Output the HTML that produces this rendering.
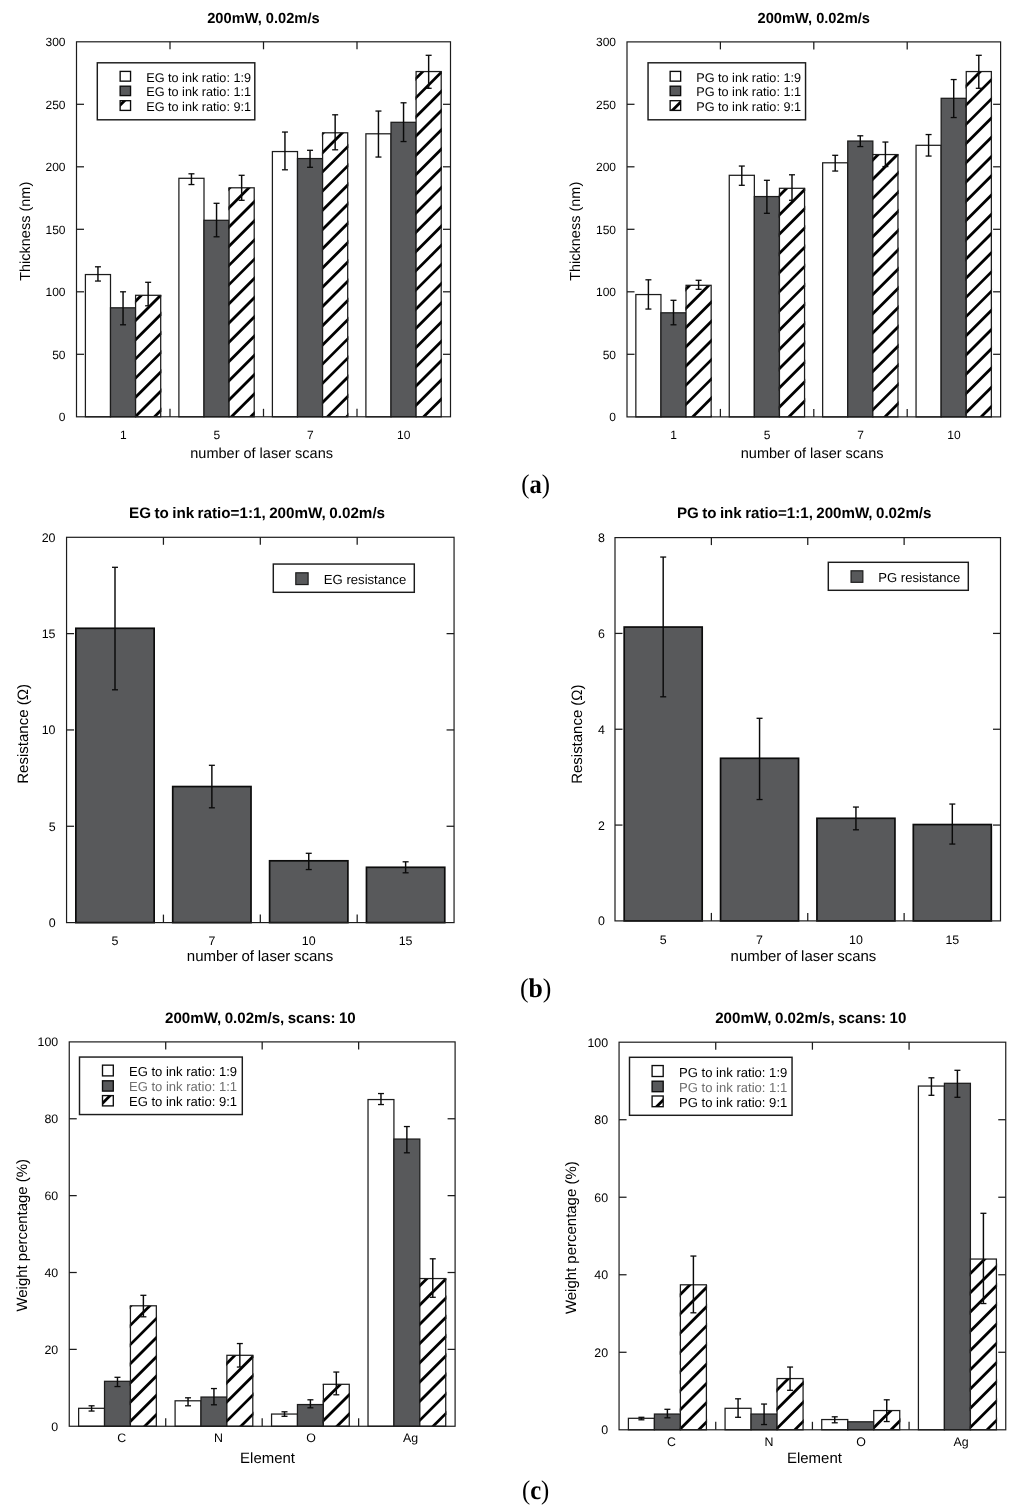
<!DOCTYPE html>
<html><head><meta charset="utf-8"><title>Figure</title>
<style>
html,body{margin:0;padding:0;background:#fff;}
svg{display:block;}
text{text-rendering:geometricPrecision;}
</style></head>
<body>
<svg width="1024" height="1512" viewBox="0 0 1024 1512">
<rect width="1024" height="1512" fill="#fff"/>
<defs><clipPath id="c1"><rect x="135.10" y="295.00" width="26.50" height="121.50"/></clipPath><clipPath id="c2"><rect x="228.60" y="187.50" width="26.50" height="229.00"/></clipPath><clipPath id="c3"><rect x="322.10" y="132.50" width="26.50" height="284.00"/></clipPath><clipPath id="c4"><rect x="415.60" y="71.25" width="26.50" height="345.25"/></clipPath><clipPath id="c5"><rect x="120.35" y="100.40" width="10.40" height="9.70"/></clipPath><clipPath id="c6"><rect x="685.55" y="285.00" width="26.50" height="131.60"/></clipPath><clipPath id="c7"><rect x="778.95" y="188.00" width="26.50" height="228.60"/></clipPath><clipPath id="c8"><rect x="872.35" y="154.25" width="26.50" height="262.35"/></clipPath><clipPath id="c9"><rect x="965.75" y="71.25" width="26.50" height="345.35"/></clipPath><clipPath id="c10"><rect x="670.35" y="100.40" width="10.50" height="9.70"/></clipPath><clipPath id="c11"><rect x="129.93" y="1305.50" width="27.30" height="120.45"/></clipPath><clipPath id="c12"><rect x="226.39" y="1355.00" width="27.30" height="70.95"/></clipPath><clipPath id="c13"><rect x="322.86" y="1384.00" width="27.30" height="41.95"/></clipPath><clipPath id="c14"><rect x="419.32" y="1278.25" width="27.30" height="147.70"/></clipPath><clipPath id="c15"><rect x="102.70" y="1095.30" width="10.80" height="10.30"/></clipPath><clipPath id="c16"><rect x="679.90" y="1284.50" width="27.40" height="145.00"/></clipPath><clipPath id="c17"><rect x="776.57" y="1378.25" width="27.40" height="51.25"/></clipPath><clipPath id="c18"><rect x="873.24" y="1410.25" width="27.40" height="19.25"/></clipPath><clipPath id="c19"><rect x="969.91" y="1258.75" width="27.40" height="170.75"/></clipPath><clipPath id="c20"><rect x="652.30" y="1095.70" width="11.10" height="10.70"/></clipPath></defs>
<g transform="translate(-0.2,0.3)">
<rect x="85.60" y="274.25" width="25.10" height="142.25" fill="#fff" stroke="#1c1c1c" stroke-width="1.25"/>
<rect x="110.70" y="307.50" width="25.10" height="109.00" fill="#58595b" stroke="#1c1c1c" stroke-width="1.25"/>
<rect x="135.80" y="295.00" width="25.10" height="121.50" fill="#fff" stroke="none"/>
<g clip-path="url(#c1)" stroke="#000" stroke-width="2.8"><line x1="132.80" y1="284.59" x2="163.90" y2="253.49"/><line x1="132.80" y1="303.81" x2="163.90" y2="272.71"/><line x1="132.80" y1="323.04" x2="163.90" y2="291.94"/><line x1="132.80" y1="342.26" x2="163.90" y2="311.16"/><line x1="132.80" y1="361.49" x2="163.90" y2="330.39"/><line x1="132.80" y1="380.71" x2="163.90" y2="349.61"/><line x1="132.80" y1="399.94" x2="163.90" y2="368.84"/><line x1="132.80" y1="419.16" x2="163.90" y2="388.06"/><line x1="132.80" y1="438.39" x2="163.90" y2="407.29"/><line x1="132.80" y1="457.61" x2="163.90" y2="426.51"/></g>
<rect x="135.80" y="295.00" width="25.10" height="121.50" fill="none" stroke="#1c1c1c" stroke-width="1.25"/>
<line x1="98.15" y1="266.50" x2="98.15" y2="280.75" stroke="#0a0a0a" stroke-width="1.45" />
<line x1="95.15" y1="266.50" x2="101.15" y2="266.50" stroke="#0a0a0a" stroke-width="1.3" />
<line x1="95.15" y1="280.75" x2="101.15" y2="280.75" stroke="#0a0a0a" stroke-width="1.3" />
<line x1="123.25" y1="291.50" x2="123.25" y2="324.50" stroke="#0a0a0a" stroke-width="1.45" />
<line x1="120.25" y1="291.50" x2="126.25" y2="291.50" stroke="#0a0a0a" stroke-width="1.3" />
<line x1="120.25" y1="324.50" x2="126.25" y2="324.50" stroke="#0a0a0a" stroke-width="1.3" />
<line x1="148.35" y1="282.00" x2="148.35" y2="305.50" stroke="#0a0a0a" stroke-width="1.45" />
<line x1="145.35" y1="282.00" x2="151.35" y2="282.00" stroke="#0a0a0a" stroke-width="1.3" />
<line x1="145.35" y1="305.50" x2="151.35" y2="305.50" stroke="#0a0a0a" stroke-width="1.3" />
<rect x="179.10" y="178.00" width="25.10" height="238.50" fill="#fff" stroke="#1c1c1c" stroke-width="1.25"/>
<rect x="204.20" y="220.00" width="25.10" height="196.50" fill="#58595b" stroke="#1c1c1c" stroke-width="1.25"/>
<rect x="229.30" y="187.50" width="25.10" height="229.00" fill="#fff" stroke="none"/>
<g clip-path="url(#c2)" stroke="#000" stroke-width="2.8"><line x1="226.30" y1="171.86" x2="257.40" y2="140.76"/><line x1="226.30" y1="191.09" x2="257.40" y2="159.99"/><line x1="226.30" y1="210.31" x2="257.40" y2="179.21"/><line x1="226.30" y1="229.54" x2="257.40" y2="198.44"/><line x1="226.30" y1="248.76" x2="257.40" y2="217.66"/><line x1="226.30" y1="267.99" x2="257.40" y2="236.89"/><line x1="226.30" y1="287.21" x2="257.40" y2="256.11"/><line x1="226.30" y1="306.44" x2="257.40" y2="275.34"/><line x1="226.30" y1="325.66" x2="257.40" y2="294.56"/><line x1="226.30" y1="344.89" x2="257.40" y2="313.79"/><line x1="226.30" y1="364.11" x2="257.40" y2="333.01"/><line x1="226.30" y1="383.33" x2="257.40" y2="352.24"/><line x1="226.30" y1="402.56" x2="257.40" y2="371.46"/><line x1="226.30" y1="421.79" x2="257.40" y2="390.69"/><line x1="226.30" y1="441.01" x2="257.40" y2="409.91"/><line x1="226.30" y1="460.23" x2="257.40" y2="429.13"/></g>
<rect x="229.30" y="187.50" width="25.10" height="229.00" fill="none" stroke="#1c1c1c" stroke-width="1.25"/>
<line x1="191.65" y1="173.50" x2="191.65" y2="184.25" stroke="#0a0a0a" stroke-width="1.45" />
<line x1="188.65" y1="173.50" x2="194.65" y2="173.50" stroke="#0a0a0a" stroke-width="1.3" />
<line x1="188.65" y1="184.25" x2="194.65" y2="184.25" stroke="#0a0a0a" stroke-width="1.3" />
<line x1="216.75" y1="203.00" x2="216.75" y2="236.50" stroke="#0a0a0a" stroke-width="1.45" />
<line x1="213.75" y1="203.00" x2="219.75" y2="203.00" stroke="#0a0a0a" stroke-width="1.3" />
<line x1="213.75" y1="236.50" x2="219.75" y2="236.50" stroke="#0a0a0a" stroke-width="1.3" />
<line x1="241.85" y1="175.00" x2="241.85" y2="200.00" stroke="#0a0a0a" stroke-width="1.45" />
<line x1="238.85" y1="175.00" x2="244.85" y2="175.00" stroke="#0a0a0a" stroke-width="1.3" />
<line x1="238.85" y1="200.00" x2="244.85" y2="200.00" stroke="#0a0a0a" stroke-width="1.3" />
<rect x="272.60" y="151.25" width="25.10" height="265.25" fill="#fff" stroke="#1c1c1c" stroke-width="1.25"/>
<rect x="297.70" y="158.25" width="25.10" height="258.25" fill="#58595b" stroke="#1c1c1c" stroke-width="1.25"/>
<rect x="322.80" y="132.50" width="25.10" height="284.00" fill="#fff" stroke="none"/>
<g clip-path="url(#c3)" stroke="#000" stroke-width="2.8"><line x1="319.80" y1="116.81" x2="350.90" y2="85.71"/><line x1="319.80" y1="136.04" x2="350.90" y2="104.94"/><line x1="319.80" y1="155.26" x2="350.90" y2="124.16"/><line x1="319.80" y1="174.49" x2="350.90" y2="143.39"/><line x1="319.80" y1="193.71" x2="350.90" y2="162.61"/><line x1="319.80" y1="212.94" x2="350.90" y2="181.83"/><line x1="319.80" y1="232.16" x2="350.90" y2="201.06"/><line x1="319.80" y1="251.39" x2="350.90" y2="220.29"/><line x1="319.80" y1="270.61" x2="350.90" y2="239.51"/><line x1="319.80" y1="289.83" x2="350.90" y2="258.73"/><line x1="319.80" y1="309.06" x2="350.90" y2="277.96"/><line x1="319.80" y1="328.29" x2="350.90" y2="297.19"/><line x1="319.80" y1="347.51" x2="350.90" y2="316.41"/><line x1="319.80" y1="366.73" x2="350.90" y2="335.63"/><line x1="319.80" y1="385.96" x2="350.90" y2="354.86"/><line x1="319.80" y1="405.19" x2="350.90" y2="374.08"/><line x1="319.80" y1="424.41" x2="350.90" y2="393.31"/><line x1="319.80" y1="443.64" x2="350.90" y2="412.54"/><line x1="319.80" y1="462.86" x2="350.90" y2="431.76"/></g>
<rect x="322.80" y="132.50" width="25.10" height="284.00" fill="none" stroke="#1c1c1c" stroke-width="1.25"/>
<line x1="285.15" y1="131.75" x2="285.15" y2="169.50" stroke="#0a0a0a" stroke-width="1.45" />
<line x1="282.15" y1="131.75" x2="288.15" y2="131.75" stroke="#0a0a0a" stroke-width="1.3" />
<line x1="282.15" y1="169.50" x2="288.15" y2="169.50" stroke="#0a0a0a" stroke-width="1.3" />
<line x1="310.25" y1="150.00" x2="310.25" y2="167.00" stroke="#0a0a0a" stroke-width="1.45" />
<line x1="307.25" y1="150.00" x2="313.25" y2="150.00" stroke="#0a0a0a" stroke-width="1.3" />
<line x1="307.25" y1="167.00" x2="313.25" y2="167.00" stroke="#0a0a0a" stroke-width="1.3" />
<line x1="335.35" y1="114.50" x2="335.35" y2="149.50" stroke="#0a0a0a" stroke-width="1.45" />
<line x1="332.35" y1="114.50" x2="338.35" y2="114.50" stroke="#0a0a0a" stroke-width="1.3" />
<line x1="332.35" y1="149.50" x2="338.35" y2="149.50" stroke="#0a0a0a" stroke-width="1.3" />
<rect x="366.10" y="133.50" width="25.10" height="283.00" fill="#fff" stroke="#1c1c1c" stroke-width="1.25"/>
<rect x="391.20" y="122.00" width="25.10" height="294.50" fill="#58595b" stroke="#1c1c1c" stroke-width="1.25"/>
<rect x="416.30" y="71.25" width="25.10" height="345.25" fill="#fff" stroke="none"/>
<g clip-path="url(#c4)" stroke="#000" stroke-width="2.8"><line x1="413.30" y1="61.76" x2="444.40" y2="30.66"/><line x1="413.30" y1="80.99" x2="444.40" y2="49.89"/><line x1="413.30" y1="100.21" x2="444.40" y2="69.11"/><line x1="413.30" y1="119.44" x2="444.40" y2="88.33"/><line x1="413.30" y1="138.66" x2="444.40" y2="107.56"/><line x1="413.30" y1="157.89" x2="444.40" y2="126.79"/><line x1="413.30" y1="177.11" x2="444.40" y2="146.01"/><line x1="413.30" y1="196.33" x2="444.40" y2="165.23"/><line x1="413.30" y1="215.56" x2="444.40" y2="184.46"/><line x1="413.30" y1="234.79" x2="444.40" y2="203.69"/><line x1="413.30" y1="254.01" x2="444.40" y2="222.91"/><line x1="413.30" y1="273.23" x2="444.40" y2="242.13"/><line x1="413.30" y1="292.46" x2="444.40" y2="261.36"/><line x1="413.30" y1="311.69" x2="444.40" y2="280.58"/><line x1="413.30" y1="330.91" x2="444.40" y2="299.81"/><line x1="413.30" y1="350.14" x2="444.40" y2="319.04"/><line x1="413.30" y1="369.36" x2="444.40" y2="338.26"/><line x1="413.30" y1="388.58" x2="444.40" y2="357.48"/><line x1="413.30" y1="407.81" x2="444.40" y2="376.71"/><line x1="413.30" y1="427.04" x2="444.40" y2="395.94"/><line x1="413.30" y1="446.26" x2="444.40" y2="415.16"/><line x1="413.30" y1="465.49" x2="444.40" y2="434.39"/></g>
<rect x="416.30" y="71.25" width="25.10" height="345.25" fill="none" stroke="#1c1c1c" stroke-width="1.25"/>
<line x1="378.65" y1="110.75" x2="378.65" y2="156.75" stroke="#0a0a0a" stroke-width="1.45" />
<line x1="375.65" y1="110.75" x2="381.65" y2="110.75" stroke="#0a0a0a" stroke-width="1.3" />
<line x1="375.65" y1="156.75" x2="381.65" y2="156.75" stroke="#0a0a0a" stroke-width="1.3" />
<line x1="403.75" y1="102.50" x2="403.75" y2="141.25" stroke="#0a0a0a" stroke-width="1.45" />
<line x1="400.75" y1="102.50" x2="406.75" y2="102.50" stroke="#0a0a0a" stroke-width="1.3" />
<line x1="400.75" y1="141.25" x2="406.75" y2="141.25" stroke="#0a0a0a" stroke-width="1.3" />
<line x1="428.85" y1="55.00" x2="428.85" y2="88.00" stroke="#0a0a0a" stroke-width="1.45" />
<line x1="425.85" y1="55.00" x2="431.85" y2="55.00" stroke="#0a0a0a" stroke-width="1.3" />
<line x1="425.85" y1="88.00" x2="431.85" y2="88.00" stroke="#0a0a0a" stroke-width="1.3" />
<rect x="76.70" y="41.50" width="374.00" height="375.00" fill="none" stroke="#1c1c1c" stroke-width="1.2"/>
<text x="65.70" y="421.00" font-family='"Liberation Sans", sans-serif' font-size="12.0" font-weight="normal" text-anchor="end" fill="#000" >0</text>
<line x1="76.70" y1="354.00" x2="84.20" y2="354.00" stroke="#1c1c1c" stroke-width="1.25" />
<line x1="443.20" y1="354.00" x2="450.70" y2="354.00" stroke="#1c1c1c" stroke-width="1.25" />
<text x="65.70" y="358.50" font-family='"Liberation Sans", sans-serif' font-size="12.0" font-weight="normal" text-anchor="end" fill="#000" >50</text>
<line x1="76.70" y1="291.50" x2="84.20" y2="291.50" stroke="#1c1c1c" stroke-width="1.25" />
<line x1="443.20" y1="291.50" x2="450.70" y2="291.50" stroke="#1c1c1c" stroke-width="1.25" />
<text x="65.70" y="296.00" font-family='"Liberation Sans", sans-serif' font-size="12.0" font-weight="normal" text-anchor="end" fill="#000" >100</text>
<line x1="76.70" y1="229.00" x2="84.20" y2="229.00" stroke="#1c1c1c" stroke-width="1.25" />
<line x1="443.20" y1="229.00" x2="450.70" y2="229.00" stroke="#1c1c1c" stroke-width="1.25" />
<text x="65.70" y="233.50" font-family='"Liberation Sans", sans-serif' font-size="12.0" font-weight="normal" text-anchor="end" fill="#000" >150</text>
<line x1="76.70" y1="166.50" x2="84.20" y2="166.50" stroke="#1c1c1c" stroke-width="1.25" />
<line x1="443.20" y1="166.50" x2="450.70" y2="166.50" stroke="#1c1c1c" stroke-width="1.25" />
<text x="65.70" y="171.00" font-family='"Liberation Sans", sans-serif' font-size="12.0" font-weight="normal" text-anchor="end" fill="#000" >200</text>
<line x1="76.70" y1="104.00" x2="84.20" y2="104.00" stroke="#1c1c1c" stroke-width="1.25" />
<line x1="443.20" y1="104.00" x2="450.70" y2="104.00" stroke="#1c1c1c" stroke-width="1.25" />
<text x="65.70" y="108.50" font-family='"Liberation Sans", sans-serif' font-size="12.0" font-weight="normal" text-anchor="end" fill="#000" >250</text>
<text x="65.70" y="46.00" font-family='"Liberation Sans", sans-serif' font-size="12.0" font-weight="normal" text-anchor="end" fill="#000" >300</text>
<line x1="170.20" y1="41.50" x2="170.20" y2="49.00" stroke="#1c1c1c" stroke-width="1.25" />
<line x1="170.20" y1="408.50" x2="170.20" y2="416.50" stroke="#1c1c1c" stroke-width="1.25" />
<line x1="263.70" y1="41.50" x2="263.70" y2="49.00" stroke="#1c1c1c" stroke-width="1.25" />
<line x1="263.70" y1="408.50" x2="263.70" y2="416.50" stroke="#1c1c1c" stroke-width="1.25" />
<line x1="357.20" y1="41.50" x2="357.20" y2="49.00" stroke="#1c1c1c" stroke-width="1.25" />
<line x1="357.20" y1="408.50" x2="357.20" y2="416.50" stroke="#1c1c1c" stroke-width="1.25" />
<text x="123.45" y="438.75" font-family='"Liberation Sans", sans-serif' font-size="12.0" font-weight="normal" text-anchor="middle" fill="#000" >1</text>
<text x="216.95" y="438.75" font-family='"Liberation Sans", sans-serif' font-size="12.0" font-weight="normal" text-anchor="middle" fill="#000" >5</text>
<text x="310.45" y="438.75" font-family='"Liberation Sans", sans-serif' font-size="12.0" font-weight="normal" text-anchor="middle" fill="#000" >7</text>
<text x="403.95" y="438.75" font-family='"Liberation Sans", sans-serif' font-size="12.0" font-weight="normal" text-anchor="middle" fill="#000" >10</text>
<text x="207.40" y="22.75" font-family='"Liberation Sans", sans-serif' font-size="14.67" font-weight="bold" text-anchor="start" fill="#000" word-spacing="0">200mW, 0.02m/s</text>
<text x="190.50" y="457.50" font-family='"Liberation Sans", sans-serif' font-size="14.5" font-weight="normal" text-anchor="start" fill="#000" word-spacing="0.00">number of laser scans</text>
<text transform="translate(29.80,231.00) rotate(-90)" font-family='"Liberation Sans", sans-serif' font-size="14.5" text-anchor="middle" fill="#000">Thickness (nm)</text>
<rect x="97.50" y="62.50" width="157.50" height="57.00" fill="#fff" stroke="#1c1c1c" stroke-width="1.45"/>
<rect x="120.35" y="71.10" width="10.40" height="9.75" fill="#fff" stroke="#0c0c0c" stroke-width="1.35"/>
<text x="146.40" y="81.30" font-family='"Liberation Sans", sans-serif' font-size="12.67" font-weight="normal" text-anchor="start" fill="#000" >EG to ink ratio: 1:9</text>
<rect x="120.35" y="85.90" width="10.40" height="9.40" fill="#58595b" stroke="#0c0c0c" stroke-width="1.35"/>
<text x="146.40" y="95.80" font-family='"Liberation Sans", sans-serif' font-size="12.67" font-weight="normal" text-anchor="start" fill="#000" >EG to ink ratio: 1:1</text>
<rect x="120.35" y="100.40" width="10.40" height="9.70" fill="#fff" stroke="none"/>
<g clip-path="url(#c5)" stroke="#000" stroke-width="2.8"><line x1="117.35" y1="88.56" x2="133.75" y2="72.16"/><line x1="117.35" y1="107.79" x2="133.75" y2="91.39"/><line x1="117.35" y1="127.01" x2="133.75" y2="110.61"/><line x1="117.35" y1="146.24" x2="133.75" y2="129.84"/></g>
<rect x="120.35" y="100.40" width="10.40" height="9.70" fill="none" stroke="#0c0c0c" stroke-width="1.35"/>
<text x="146.40" y="110.30" font-family='"Liberation Sans", sans-serif' font-size="12.67" font-weight="normal" text-anchor="start" fill="#000" >EG to ink ratio: 9:1</text>
<rect x="636.05" y="294.25" width="25.10" height="122.35" fill="#fff" stroke="#1c1c1c" stroke-width="1.25"/>
<rect x="661.15" y="312.50" width="25.10" height="104.10" fill="#58595b" stroke="#1c1c1c" stroke-width="1.25"/>
<rect x="686.25" y="285.00" width="25.10" height="131.60" fill="#fff" stroke="none"/>
<g clip-path="url(#c6)" stroke="#000" stroke-width="2.8"><line x1="683.25" y1="272.43" x2="714.35" y2="241.33"/><line x1="683.25" y1="291.66" x2="714.35" y2="260.56"/><line x1="683.25" y1="310.88" x2="714.35" y2="279.78"/><line x1="683.25" y1="330.11" x2="714.35" y2="299.01"/><line x1="683.25" y1="349.33" x2="714.35" y2="318.23"/><line x1="683.25" y1="368.56" x2="714.35" y2="337.46"/><line x1="683.25" y1="387.78" x2="714.35" y2="356.68"/><line x1="683.25" y1="407.01" x2="714.35" y2="375.91"/><line x1="683.25" y1="426.24" x2="714.35" y2="395.13"/><line x1="683.25" y1="445.46" x2="714.35" y2="414.36"/><line x1="683.25" y1="464.69" x2="714.35" y2="433.59"/></g>
<rect x="686.25" y="285.00" width="25.10" height="131.60" fill="none" stroke="#1c1c1c" stroke-width="1.25"/>
<line x1="648.60" y1="279.50" x2="648.60" y2="308.75" stroke="#0a0a0a" stroke-width="1.45" />
<line x1="645.60" y1="279.50" x2="651.60" y2="279.50" stroke="#0a0a0a" stroke-width="1.3" />
<line x1="645.60" y1="308.75" x2="651.60" y2="308.75" stroke="#0a0a0a" stroke-width="1.3" />
<line x1="673.70" y1="300.00" x2="673.70" y2="324.50" stroke="#0a0a0a" stroke-width="1.45" />
<line x1="670.70" y1="300.00" x2="676.70" y2="300.00" stroke="#0a0a0a" stroke-width="1.3" />
<line x1="670.70" y1="324.50" x2="676.70" y2="324.50" stroke="#0a0a0a" stroke-width="1.3" />
<line x1="698.80" y1="280.00" x2="698.80" y2="289.00" stroke="#0a0a0a" stroke-width="1.45" />
<line x1="695.80" y1="280.00" x2="701.80" y2="280.00" stroke="#0a0a0a" stroke-width="1.3" />
<line x1="695.80" y1="289.00" x2="701.80" y2="289.00" stroke="#0a0a0a" stroke-width="1.3" />
<rect x="729.45" y="175.00" width="25.10" height="241.60" fill="#fff" stroke="#1c1c1c" stroke-width="1.25"/>
<rect x="754.55" y="196.25" width="25.10" height="220.35" fill="#58595b" stroke="#1c1c1c" stroke-width="1.25"/>
<rect x="779.65" y="188.00" width="25.10" height="228.60" fill="#fff" stroke="none"/>
<g clip-path="url(#c7)" stroke="#000" stroke-width="2.8"><line x1="776.65" y1="179.04" x2="807.75" y2="147.94"/><line x1="776.65" y1="198.26" x2="807.75" y2="167.16"/><line x1="776.65" y1="217.49" x2="807.75" y2="186.38"/><line x1="776.65" y1="236.71" x2="807.75" y2="205.61"/><line x1="776.65" y1="255.94" x2="807.75" y2="224.84"/><line x1="776.65" y1="275.16" x2="807.75" y2="244.06"/><line x1="776.65" y1="294.39" x2="807.75" y2="263.29"/><line x1="776.65" y1="313.61" x2="807.75" y2="282.51"/><line x1="776.65" y1="332.84" x2="807.75" y2="301.74"/><line x1="776.65" y1="352.06" x2="807.75" y2="320.96"/><line x1="776.65" y1="371.29" x2="807.75" y2="340.19"/><line x1="776.65" y1="390.51" x2="807.75" y2="359.41"/><line x1="776.65" y1="409.74" x2="807.75" y2="378.64"/><line x1="776.65" y1="428.96" x2="807.75" y2="397.86"/><line x1="776.65" y1="448.19" x2="807.75" y2="417.09"/><line x1="776.65" y1="467.41" x2="807.75" y2="436.31"/></g>
<rect x="779.65" y="188.00" width="25.10" height="228.60" fill="none" stroke="#1c1c1c" stroke-width="1.25"/>
<line x1="742.00" y1="165.75" x2="742.00" y2="185.00" stroke="#0a0a0a" stroke-width="1.45" />
<line x1="739.00" y1="165.75" x2="745.00" y2="165.75" stroke="#0a0a0a" stroke-width="1.3" />
<line x1="739.00" y1="185.00" x2="745.00" y2="185.00" stroke="#0a0a0a" stroke-width="1.3" />
<line x1="767.10" y1="180.00" x2="767.10" y2="213.00" stroke="#0a0a0a" stroke-width="1.45" />
<line x1="764.10" y1="180.00" x2="770.10" y2="180.00" stroke="#0a0a0a" stroke-width="1.3" />
<line x1="764.10" y1="213.00" x2="770.10" y2="213.00" stroke="#0a0a0a" stroke-width="1.3" />
<line x1="792.20" y1="174.50" x2="792.20" y2="200.00" stroke="#0a0a0a" stroke-width="1.45" />
<line x1="789.20" y1="174.50" x2="795.20" y2="174.50" stroke="#0a0a0a" stroke-width="1.3" />
<line x1="789.20" y1="200.00" x2="795.20" y2="200.00" stroke="#0a0a0a" stroke-width="1.3" />
<rect x="822.85" y="162.50" width="25.10" height="254.10" fill="#fff" stroke="#1c1c1c" stroke-width="1.25"/>
<rect x="847.95" y="140.75" width="25.10" height="275.85" fill="#58595b" stroke="#1c1c1c" stroke-width="1.25"/>
<rect x="873.05" y="154.25" width="25.10" height="262.35" fill="#fff" stroke="none"/>
<g clip-path="url(#c8)" stroke="#000" stroke-width="2.8"><line x1="870.05" y1="143.31" x2="901.15" y2="112.21"/><line x1="870.05" y1="162.53" x2="901.15" y2="131.43"/><line x1="870.05" y1="181.76" x2="901.15" y2="150.66"/><line x1="870.05" y1="200.99" x2="901.15" y2="169.88"/><line x1="870.05" y1="220.21" x2="901.15" y2="189.11"/><line x1="870.05" y1="239.44" x2="901.15" y2="208.34"/><line x1="870.05" y1="258.66" x2="901.15" y2="227.56"/><line x1="870.05" y1="277.89" x2="901.15" y2="246.79"/><line x1="870.05" y1="297.11" x2="901.15" y2="266.01"/><line x1="870.05" y1="316.34" x2="901.15" y2="285.24"/><line x1="870.05" y1="335.56" x2="901.15" y2="304.46"/><line x1="870.05" y1="354.79" x2="901.15" y2="323.69"/><line x1="870.05" y1="374.01" x2="901.15" y2="342.91"/><line x1="870.05" y1="393.24" x2="901.15" y2="362.13"/><line x1="870.05" y1="412.46" x2="901.15" y2="381.36"/><line x1="870.05" y1="431.69" x2="901.15" y2="400.59"/><line x1="870.05" y1="450.91" x2="901.15" y2="419.81"/></g>
<rect x="873.05" y="154.25" width="25.10" height="262.35" fill="none" stroke="#1c1c1c" stroke-width="1.25"/>
<line x1="835.40" y1="155.00" x2="835.40" y2="170.75" stroke="#0a0a0a" stroke-width="1.45" />
<line x1="832.40" y1="155.00" x2="838.40" y2="155.00" stroke="#0a0a0a" stroke-width="1.3" />
<line x1="832.40" y1="170.75" x2="838.40" y2="170.75" stroke="#0a0a0a" stroke-width="1.3" />
<line x1="860.50" y1="135.50" x2="860.50" y2="146.25" stroke="#0a0a0a" stroke-width="1.45" />
<line x1="857.50" y1="135.50" x2="863.50" y2="135.50" stroke="#0a0a0a" stroke-width="1.3" />
<line x1="857.50" y1="146.25" x2="863.50" y2="146.25" stroke="#0a0a0a" stroke-width="1.3" />
<line x1="885.60" y1="141.75" x2="885.60" y2="166.25" stroke="#0a0a0a" stroke-width="1.45" />
<line x1="882.60" y1="141.75" x2="888.60" y2="141.75" stroke="#0a0a0a" stroke-width="1.3" />
<line x1="882.60" y1="166.25" x2="888.60" y2="166.25" stroke="#0a0a0a" stroke-width="1.3" />
<rect x="916.25" y="145.00" width="25.10" height="271.60" fill="#fff" stroke="#1c1c1c" stroke-width="1.25"/>
<rect x="941.35" y="98.00" width="25.10" height="318.60" fill="#58595b" stroke="#1c1c1c" stroke-width="1.25"/>
<rect x="966.45" y="71.25" width="25.10" height="345.35" fill="#fff" stroke="none"/>
<g clip-path="url(#c9)" stroke="#000" stroke-width="2.8"><line x1="963.45" y1="69.14" x2="994.55" y2="38.04"/><line x1="963.45" y1="88.36" x2="994.55" y2="57.26"/><line x1="963.45" y1="107.59" x2="994.55" y2="76.49"/><line x1="963.45" y1="126.81" x2="994.55" y2="95.71"/><line x1="963.45" y1="146.04" x2="994.55" y2="114.94"/><line x1="963.45" y1="165.26" x2="994.55" y2="134.16"/><line x1="963.45" y1="184.49" x2="994.55" y2="153.39"/><line x1="963.45" y1="203.71" x2="994.55" y2="172.61"/><line x1="963.45" y1="222.94" x2="994.55" y2="191.84"/><line x1="963.45" y1="242.16" x2="994.55" y2="211.06"/><line x1="963.45" y1="261.39" x2="994.55" y2="230.29"/><line x1="963.45" y1="280.61" x2="994.55" y2="249.51"/><line x1="963.45" y1="299.84" x2="994.55" y2="268.74"/><line x1="963.45" y1="319.06" x2="994.55" y2="287.96"/><line x1="963.45" y1="338.29" x2="994.55" y2="307.19"/><line x1="963.45" y1="357.51" x2="994.55" y2="326.41"/><line x1="963.45" y1="376.74" x2="994.55" y2="345.64"/><line x1="963.45" y1="395.96" x2="994.55" y2="364.86"/><line x1="963.45" y1="415.19" x2="994.55" y2="384.09"/><line x1="963.45" y1="434.41" x2="994.55" y2="403.31"/><line x1="963.45" y1="453.64" x2="994.55" y2="422.54"/></g>
<rect x="966.45" y="71.25" width="25.10" height="345.35" fill="none" stroke="#1c1c1c" stroke-width="1.25"/>
<line x1="928.80" y1="134.25" x2="928.80" y2="155.75" stroke="#0a0a0a" stroke-width="1.45" />
<line x1="925.80" y1="134.25" x2="931.80" y2="134.25" stroke="#0a0a0a" stroke-width="1.3" />
<line x1="925.80" y1="155.75" x2="931.80" y2="155.75" stroke="#0a0a0a" stroke-width="1.3" />
<line x1="953.90" y1="79.25" x2="953.90" y2="117.25" stroke="#0a0a0a" stroke-width="1.45" />
<line x1="950.90" y1="79.25" x2="956.90" y2="79.25" stroke="#0a0a0a" stroke-width="1.3" />
<line x1="950.90" y1="117.25" x2="956.90" y2="117.25" stroke="#0a0a0a" stroke-width="1.3" />
<line x1="979.00" y1="55.00" x2="979.00" y2="88.00" stroke="#0a0a0a" stroke-width="1.45" />
<line x1="976.00" y1="55.00" x2="982.00" y2="55.00" stroke="#0a0a0a" stroke-width="1.3" />
<line x1="976.00" y1="88.00" x2="982.00" y2="88.00" stroke="#0a0a0a" stroke-width="1.3" />
<rect x="627.20" y="41.60" width="373.60" height="375.00" fill="none" stroke="#1c1c1c" stroke-width="1.2"/>
<text x="616.20" y="421.00" font-family='"Liberation Sans", sans-serif' font-size="12.0" font-weight="normal" text-anchor="end" fill="#000" >0</text>
<line x1="627.20" y1="354.00" x2="634.70" y2="354.00" stroke="#1c1c1c" stroke-width="1.25" />
<line x1="993.30" y1="354.00" x2="1000.80" y2="354.00" stroke="#1c1c1c" stroke-width="1.25" />
<text x="616.20" y="358.50" font-family='"Liberation Sans", sans-serif' font-size="12.0" font-weight="normal" text-anchor="end" fill="#000" >50</text>
<line x1="627.20" y1="291.50" x2="634.70" y2="291.50" stroke="#1c1c1c" stroke-width="1.25" />
<line x1="993.30" y1="291.50" x2="1000.80" y2="291.50" stroke="#1c1c1c" stroke-width="1.25" />
<text x="616.20" y="296.00" font-family='"Liberation Sans", sans-serif' font-size="12.0" font-weight="normal" text-anchor="end" fill="#000" >100</text>
<line x1="627.20" y1="229.00" x2="634.70" y2="229.00" stroke="#1c1c1c" stroke-width="1.25" />
<line x1="993.30" y1="229.00" x2="1000.80" y2="229.00" stroke="#1c1c1c" stroke-width="1.25" />
<text x="616.20" y="233.50" font-family='"Liberation Sans", sans-serif' font-size="12.0" font-weight="normal" text-anchor="end" fill="#000" >150</text>
<line x1="627.20" y1="166.50" x2="634.70" y2="166.50" stroke="#1c1c1c" stroke-width="1.25" />
<line x1="993.30" y1="166.50" x2="1000.80" y2="166.50" stroke="#1c1c1c" stroke-width="1.25" />
<text x="616.20" y="171.00" font-family='"Liberation Sans", sans-serif' font-size="12.0" font-weight="normal" text-anchor="end" fill="#000" >200</text>
<line x1="627.20" y1="104.00" x2="634.70" y2="104.00" stroke="#1c1c1c" stroke-width="1.25" />
<line x1="993.30" y1="104.00" x2="1000.80" y2="104.00" stroke="#1c1c1c" stroke-width="1.25" />
<text x="616.20" y="108.50" font-family='"Liberation Sans", sans-serif' font-size="12.0" font-weight="normal" text-anchor="end" fill="#000" >250</text>
<text x="616.20" y="46.00" font-family='"Liberation Sans", sans-serif' font-size="12.0" font-weight="normal" text-anchor="end" fill="#000" >300</text>
<line x1="720.60" y1="41.60" x2="720.60" y2="49.10" stroke="#1c1c1c" stroke-width="1.25" />
<line x1="720.60" y1="408.60" x2="720.60" y2="416.60" stroke="#1c1c1c" stroke-width="1.25" />
<line x1="814.00" y1="41.60" x2="814.00" y2="49.10" stroke="#1c1c1c" stroke-width="1.25" />
<line x1="814.00" y1="408.60" x2="814.00" y2="416.60" stroke="#1c1c1c" stroke-width="1.25" />
<line x1="907.40" y1="41.60" x2="907.40" y2="49.10" stroke="#1c1c1c" stroke-width="1.25" />
<line x1="907.40" y1="408.60" x2="907.40" y2="416.60" stroke="#1c1c1c" stroke-width="1.25" />
<text x="673.90" y="438.85" font-family='"Liberation Sans", sans-serif' font-size="12.0" font-weight="normal" text-anchor="middle" fill="#000" >1</text>
<text x="767.30" y="438.85" font-family='"Liberation Sans", sans-serif' font-size="12.0" font-weight="normal" text-anchor="middle" fill="#000" >5</text>
<text x="860.70" y="438.85" font-family='"Liberation Sans", sans-serif' font-size="12.0" font-weight="normal" text-anchor="middle" fill="#000" >7</text>
<text x="954.10" y="438.85" font-family='"Liberation Sans", sans-serif' font-size="12.0" font-weight="normal" text-anchor="middle" fill="#000" >10</text>
<text x="757.70" y="22.75" font-family='"Liberation Sans", sans-serif' font-size="14.67" font-weight="bold" text-anchor="start" fill="#000" word-spacing="0">200mW, 0.02m/s</text>
<text x="741.00" y="457.50" font-family='"Liberation Sans", sans-serif' font-size="14.5" font-weight="normal" text-anchor="start" fill="#000" word-spacing="0.00">number of laser scans</text>
<text transform="translate(580.00,231.00) rotate(-90)" font-family='"Liberation Sans", sans-serif' font-size="14.5" text-anchor="middle" fill="#000">Thickness (nm)</text>
<rect x="648.25" y="62.50" width="157.50" height="57.00" fill="#fff" stroke="#1c1c1c" stroke-width="1.45"/>
<rect x="670.35" y="71.10" width="10.50" height="9.75" fill="#fff" stroke="#0c0c0c" stroke-width="1.35"/>
<text x="696.40" y="81.30" font-family='"Liberation Sans", sans-serif' font-size="12.67" font-weight="normal" text-anchor="start" fill="#000" >PG to ink ratio: 1:9</text>
<rect x="670.35" y="85.90" width="10.50" height="9.40" fill="#58595b" stroke="#0c0c0c" stroke-width="1.35"/>
<text x="696.40" y="95.80" font-family='"Liberation Sans", sans-serif' font-size="12.67" font-weight="normal" text-anchor="start" fill="#000" >PG to ink ratio: 1:1</text>
<rect x="670.35" y="100.40" width="10.50" height="9.70" fill="#fff" stroke="none"/>
<g clip-path="url(#c10)" stroke="#000" stroke-width="2.8"><line x1="667.35" y1="96.09" x2="683.85" y2="79.59"/><line x1="667.35" y1="115.31" x2="683.85" y2="98.81"/><line x1="667.35" y1="134.53" x2="683.85" y2="118.03"/></g>
<rect x="670.35" y="100.40" width="10.50" height="9.70" fill="none" stroke="#0c0c0c" stroke-width="1.35"/>
<text x="696.40" y="110.30" font-family='"Liberation Sans", sans-serif' font-size="12.67" font-weight="normal" text-anchor="start" fill="#000" >PG to ink ratio: 9:1</text>
<rect x="76.05" y="628.00" width="78.30" height="294.30" fill="#58595b" stroke="#0c0c0c" stroke-width="1.7"/>
<line x1="115.20" y1="567.00" x2="115.20" y2="689.50" stroke="#0a0a0a" stroke-width="1.45" />
<line x1="112.20" y1="567.00" x2="118.20" y2="567.00" stroke="#0a0a0a" stroke-width="1.3" />
<line x1="112.20" y1="689.50" x2="118.20" y2="689.50" stroke="#0a0a0a" stroke-width="1.3" />
<rect x="172.92" y="786.25" width="78.30" height="136.05" fill="#58595b" stroke="#0c0c0c" stroke-width="1.7"/>
<line x1="212.07" y1="765.00" x2="212.07" y2="807.50" stroke="#0a0a0a" stroke-width="1.45" />
<line x1="209.07" y1="765.00" x2="215.07" y2="765.00" stroke="#0a0a0a" stroke-width="1.3" />
<line x1="209.07" y1="807.50" x2="215.07" y2="807.50" stroke="#0a0a0a" stroke-width="1.3" />
<rect x="269.80" y="860.50" width="78.30" height="61.80" fill="#58595b" stroke="#0c0c0c" stroke-width="1.7"/>
<line x1="308.95" y1="853.00" x2="308.95" y2="869.25" stroke="#0a0a0a" stroke-width="1.45" />
<line x1="305.95" y1="853.00" x2="311.95" y2="853.00" stroke="#0a0a0a" stroke-width="1.3" />
<line x1="305.95" y1="869.25" x2="311.95" y2="869.25" stroke="#0a0a0a" stroke-width="1.3" />
<rect x="366.67" y="867.00" width="78.30" height="55.30" fill="#58595b" stroke="#0c0c0c" stroke-width="1.7"/>
<line x1="405.82" y1="861.50" x2="405.82" y2="872.50" stroke="#0a0a0a" stroke-width="1.45" />
<line x1="402.82" y1="861.50" x2="408.82" y2="861.50" stroke="#0a0a0a" stroke-width="1.3" />
<line x1="402.82" y1="872.50" x2="408.82" y2="872.50" stroke="#0a0a0a" stroke-width="1.3" />
<rect x="66.76" y="537.00" width="387.50" height="385.30" fill="none" stroke="#1c1c1c" stroke-width="1.2"/>
<text x="55.76" y="926.80" font-family='"Liberation Sans", sans-serif' font-size="12.45" font-weight="normal" text-anchor="end" fill="#000" >0</text>
<line x1="66.76" y1="825.97" x2="74.26" y2="825.97" stroke="#1c1c1c" stroke-width="1.25" />
<line x1="446.76" y1="825.97" x2="454.26" y2="825.97" stroke="#1c1c1c" stroke-width="1.25" />
<text x="55.76" y="830.47" font-family='"Liberation Sans", sans-serif' font-size="12.45" font-weight="normal" text-anchor="end" fill="#000" >5</text>
<line x1="66.76" y1="729.65" x2="74.26" y2="729.65" stroke="#1c1c1c" stroke-width="1.25" />
<line x1="446.76" y1="729.65" x2="454.26" y2="729.65" stroke="#1c1c1c" stroke-width="1.25" />
<text x="55.76" y="734.15" font-family='"Liberation Sans", sans-serif' font-size="12.45" font-weight="normal" text-anchor="end" fill="#000" >10</text>
<line x1="66.76" y1="633.33" x2="74.26" y2="633.33" stroke="#1c1c1c" stroke-width="1.25" />
<line x1="446.76" y1="633.33" x2="454.26" y2="633.33" stroke="#1c1c1c" stroke-width="1.25" />
<text x="55.76" y="637.83" font-family='"Liberation Sans", sans-serif' font-size="12.45" font-weight="normal" text-anchor="end" fill="#000" >15</text>
<text x="55.76" y="541.50" font-family='"Liberation Sans", sans-serif' font-size="12.45" font-weight="normal" text-anchor="end" fill="#000" >20</text>
<line x1="163.63" y1="537.00" x2="163.63" y2="544.50" stroke="#1c1c1c" stroke-width="1.25" />
<line x1="163.63" y1="914.30" x2="163.63" y2="922.30" stroke="#1c1c1c" stroke-width="1.25" />
<line x1="260.51" y1="537.00" x2="260.51" y2="544.50" stroke="#1c1c1c" stroke-width="1.25" />
<line x1="260.51" y1="914.30" x2="260.51" y2="922.30" stroke="#1c1c1c" stroke-width="1.25" />
<line x1="357.38" y1="537.00" x2="357.38" y2="544.50" stroke="#1c1c1c" stroke-width="1.25" />
<line x1="357.38" y1="914.30" x2="357.38" y2="922.30" stroke="#1c1c1c" stroke-width="1.25" />
<text x="115.20" y="944.60" font-family='"Liberation Sans", sans-serif' font-size="12.45" font-weight="normal" text-anchor="middle" fill="#000" >5</text>
<text x="212.07" y="944.60" font-family='"Liberation Sans", sans-serif' font-size="12.45" font-weight="normal" text-anchor="middle" fill="#000" >7</text>
<text x="308.95" y="944.60" font-family='"Liberation Sans", sans-serif' font-size="12.45" font-weight="normal" text-anchor="middle" fill="#000" >10</text>
<text x="405.82" y="944.60" font-family='"Liberation Sans", sans-serif' font-size="12.45" font-weight="normal" text-anchor="middle" fill="#000" >15</text>
<text x="129.20" y="518.00" font-family='"Liberation Sans", sans-serif' font-size="15.22" font-weight="bold" text-anchor="start" fill="#000" word-spacing="-0.8">EG to ink ratio=1:1, 200mW, 0.02m/s</text>
<text x="187.00" y="960.70" font-family='"Liberation Sans", sans-serif' font-size="15.04" font-weight="normal" text-anchor="start" fill="#000" word-spacing="-0.48">number of laser scans</text>
<text transform="translate(28.40,733.60) rotate(-90)" font-family='"Liberation Sans", sans-serif' font-size="15.04" text-anchor="middle" fill="#000">Resistance (Ω)</text>
<rect x="273.50" y="563.75" width="141.00" height="28.25" fill="#fff" stroke="#1c1c1c" stroke-width="1.45"/>
<rect x="296.00" y="572.50" width="12.30" height="11.75" fill="#58595b" stroke="#1c1c1c" stroke-width="1.2"/>
<text x="324.00" y="583.25" font-family='"Liberation Sans", sans-serif' font-size="13.14" font-weight="normal" text-anchor="start" fill="#000" >EG resistance</text>
<rect x="624.39" y="626.75" width="78.00" height="293.85" fill="#58595b" stroke="#0c0c0c" stroke-width="1.7"/>
<line x1="663.39" y1="556.75" x2="663.39" y2="696.50" stroke="#0a0a0a" stroke-width="1.45" />
<line x1="660.39" y1="556.75" x2="666.39" y2="556.75" stroke="#0a0a0a" stroke-width="1.3" />
<line x1="660.39" y1="696.50" x2="666.39" y2="696.50" stroke="#0a0a0a" stroke-width="1.3" />
<rect x="720.76" y="758.00" width="78.00" height="162.60" fill="#58595b" stroke="#0c0c0c" stroke-width="1.7"/>
<line x1="759.76" y1="718.00" x2="759.76" y2="799.25" stroke="#0a0a0a" stroke-width="1.45" />
<line x1="756.76" y1="718.00" x2="762.76" y2="718.00" stroke="#0a0a0a" stroke-width="1.3" />
<line x1="756.76" y1="799.25" x2="762.76" y2="799.25" stroke="#0a0a0a" stroke-width="1.3" />
<rect x="817.14" y="818.00" width="78.00" height="102.60" fill="#58595b" stroke="#0c0c0c" stroke-width="1.7"/>
<line x1="856.14" y1="806.75" x2="856.14" y2="829.50" stroke="#0a0a0a" stroke-width="1.45" />
<line x1="853.14" y1="806.75" x2="859.14" y2="806.75" stroke="#0a0a0a" stroke-width="1.3" />
<line x1="853.14" y1="829.50" x2="859.14" y2="829.50" stroke="#0a0a0a" stroke-width="1.3" />
<rect x="913.51" y="824.25" width="78.00" height="96.35" fill="#58595b" stroke="#0c0c0c" stroke-width="1.7"/>
<line x1="952.51" y1="803.75" x2="952.51" y2="843.75" stroke="#0a0a0a" stroke-width="1.45" />
<line x1="949.51" y1="803.75" x2="955.51" y2="803.75" stroke="#0a0a0a" stroke-width="1.3" />
<line x1="949.51" y1="843.75" x2="955.51" y2="843.75" stroke="#0a0a0a" stroke-width="1.3" />
<rect x="615.20" y="537.30" width="385.50" height="383.30" fill="none" stroke="#1c1c1c" stroke-width="1.2"/>
<text x="605.10" y="925.10" font-family='"Liberation Sans", sans-serif' font-size="12.38" font-weight="normal" text-anchor="end" fill="#000" >0</text>
<line x1="615.20" y1="824.77" x2="622.70" y2="824.77" stroke="#1c1c1c" stroke-width="1.25" />
<line x1="993.20" y1="824.77" x2="1000.70" y2="824.77" stroke="#1c1c1c" stroke-width="1.25" />
<text x="605.10" y="829.27" font-family='"Liberation Sans", sans-serif' font-size="12.38" font-weight="normal" text-anchor="end" fill="#000" >2</text>
<line x1="615.20" y1="728.95" x2="622.70" y2="728.95" stroke="#1c1c1c" stroke-width="1.25" />
<line x1="993.20" y1="728.95" x2="1000.70" y2="728.95" stroke="#1c1c1c" stroke-width="1.25" />
<text x="605.10" y="733.45" font-family='"Liberation Sans", sans-serif' font-size="12.38" font-weight="normal" text-anchor="end" fill="#000" >4</text>
<line x1="615.20" y1="633.12" x2="622.70" y2="633.12" stroke="#1c1c1c" stroke-width="1.25" />
<line x1="993.20" y1="633.12" x2="1000.70" y2="633.12" stroke="#1c1c1c" stroke-width="1.25" />
<text x="605.10" y="637.62" font-family='"Liberation Sans", sans-serif' font-size="12.38" font-weight="normal" text-anchor="end" fill="#000" >6</text>
<text x="605.10" y="541.80" font-family='"Liberation Sans", sans-serif' font-size="12.38" font-weight="normal" text-anchor="end" fill="#000" >8</text>
<line x1="711.58" y1="537.30" x2="711.58" y2="544.80" stroke="#1c1c1c" stroke-width="1.25" />
<line x1="711.58" y1="912.60" x2="711.58" y2="920.60" stroke="#1c1c1c" stroke-width="1.25" />
<line x1="807.95" y1="537.30" x2="807.95" y2="544.80" stroke="#1c1c1c" stroke-width="1.25" />
<line x1="807.95" y1="912.60" x2="807.95" y2="920.60" stroke="#1c1c1c" stroke-width="1.25" />
<line x1="904.33" y1="537.30" x2="904.33" y2="544.80" stroke="#1c1c1c" stroke-width="1.25" />
<line x1="904.33" y1="912.60" x2="904.33" y2="920.60" stroke="#1c1c1c" stroke-width="1.25" />
<text x="663.39" y="943.50" font-family='"Liberation Sans", sans-serif' font-size="12.38" font-weight="normal" text-anchor="middle" fill="#000" >5</text>
<text x="759.76" y="943.50" font-family='"Liberation Sans", sans-serif' font-size="12.38" font-weight="normal" text-anchor="middle" fill="#000" >7</text>
<text x="856.14" y="943.50" font-family='"Liberation Sans", sans-serif' font-size="12.38" font-weight="normal" text-anchor="middle" fill="#000" >10</text>
<text x="952.51" y="943.50" font-family='"Liberation Sans", sans-serif' font-size="12.38" font-weight="normal" text-anchor="middle" fill="#000" >15</text>
<text x="677.20" y="518.00" font-family='"Liberation Sans", sans-serif' font-size="15.14" font-weight="bold" text-anchor="start" fill="#000" word-spacing="-0.8">PG to ink ratio=1:1, 200mW, 0.02m/s</text>
<text x="730.80" y="960.60" font-family='"Liberation Sans", sans-serif' font-size="14.96" font-weight="normal" text-anchor="start" fill="#000" word-spacing="-0.48">number of laser scans</text>
<text transform="translate(582.00,733.85) rotate(-90)" font-family='"Liberation Sans", sans-serif' font-size="14.96" text-anchor="middle" fill="#000">Resistance (Ω)</text>
<rect x="828.50" y="562.00" width="140.00" height="28.00" fill="#fff" stroke="#1c1c1c" stroke-width="1.45"/>
<rect x="851.25" y="570.50" width="11.80" height="11.50" fill="#58595b" stroke="#1c1c1c" stroke-width="1.2"/>
<text x="878.50" y="581.25" font-family='"Liberation Sans", sans-serif' font-size="13.07" font-weight="normal" text-anchor="start" fill="#000" >PG resistance</text>
<rect x="78.83" y="1408.00" width="25.90" height="17.95" fill="#fff" stroke="#1c1c1c" stroke-width="1.25"/>
<rect x="104.73" y="1381.00" width="25.90" height="44.95" fill="#58595b" stroke="#1c1c1c" stroke-width="1.25"/>
<rect x="130.63" y="1305.50" width="25.90" height="120.45" fill="#fff" stroke="none"/>
<g clip-path="url(#c11)" stroke="#000" stroke-width="2.8"><line x1="127.63" y1="1289.45" x2="159.53" y2="1257.55"/><line x1="127.63" y1="1308.68" x2="159.53" y2="1276.78"/><line x1="127.63" y1="1327.90" x2="159.53" y2="1296.00"/><line x1="127.63" y1="1347.13" x2="159.53" y2="1315.23"/><line x1="127.63" y1="1366.35" x2="159.53" y2="1334.45"/><line x1="127.63" y1="1385.58" x2="159.53" y2="1353.68"/><line x1="127.63" y1="1404.80" x2="159.53" y2="1372.90"/><line x1="127.63" y1="1424.03" x2="159.53" y2="1392.13"/><line x1="127.63" y1="1443.25" x2="159.53" y2="1411.35"/><line x1="127.63" y1="1462.48" x2="159.53" y2="1430.58"/></g>
<rect x="130.63" y="1305.50" width="25.90" height="120.45" fill="none" stroke="#1c1c1c" stroke-width="1.25"/>
<line x1="91.78" y1="1405.50" x2="91.78" y2="1410.75" stroke="#0a0a0a" stroke-width="1.45" />
<line x1="88.78" y1="1405.50" x2="94.78" y2="1405.50" stroke="#0a0a0a" stroke-width="1.3" />
<line x1="88.78" y1="1410.75" x2="94.78" y2="1410.75" stroke="#0a0a0a" stroke-width="1.3" />
<line x1="117.68" y1="1377.00" x2="117.68" y2="1386.25" stroke="#0a0a0a" stroke-width="1.45" />
<line x1="114.68" y1="1377.00" x2="120.68" y2="1377.00" stroke="#0a0a0a" stroke-width="1.3" />
<line x1="114.68" y1="1386.25" x2="120.68" y2="1386.25" stroke="#0a0a0a" stroke-width="1.3" />
<line x1="143.58" y1="1295.00" x2="143.58" y2="1316.50" stroke="#0a0a0a" stroke-width="1.45" />
<line x1="140.58" y1="1295.00" x2="146.58" y2="1295.00" stroke="#0a0a0a" stroke-width="1.3" />
<line x1="140.58" y1="1316.50" x2="146.58" y2="1316.50" stroke="#0a0a0a" stroke-width="1.3" />
<rect x="175.29" y="1400.50" width="25.90" height="25.45" fill="#fff" stroke="#1c1c1c" stroke-width="1.25"/>
<rect x="201.19" y="1396.75" width="25.90" height="29.20" fill="#58595b" stroke="#1c1c1c" stroke-width="1.25"/>
<rect x="227.09" y="1355.00" width="25.90" height="70.95" fill="#fff" stroke="none"/>
<g clip-path="url(#c12)" stroke="#000" stroke-width="2.8"><line x1="224.09" y1="1346.79" x2="255.99" y2="1314.89"/><line x1="224.09" y1="1366.02" x2="255.99" y2="1334.12"/><line x1="224.09" y1="1385.24" x2="255.99" y2="1353.34"/><line x1="224.09" y1="1404.47" x2="255.99" y2="1372.57"/><line x1="224.09" y1="1423.69" x2="255.99" y2="1391.79"/><line x1="224.09" y1="1442.92" x2="255.99" y2="1411.02"/><line x1="224.09" y1="1462.14" x2="255.99" y2="1430.24"/></g>
<rect x="227.09" y="1355.00" width="25.90" height="70.95" fill="none" stroke="#1c1c1c" stroke-width="1.25"/>
<line x1="188.24" y1="1397.50" x2="188.24" y2="1405.50" stroke="#0a0a0a" stroke-width="1.45" />
<line x1="185.24" y1="1397.50" x2="191.24" y2="1397.50" stroke="#0a0a0a" stroke-width="1.3" />
<line x1="185.24" y1="1405.50" x2="191.24" y2="1405.50" stroke="#0a0a0a" stroke-width="1.3" />
<line x1="214.14" y1="1388.25" x2="214.14" y2="1404.50" stroke="#0a0a0a" stroke-width="1.45" />
<line x1="211.14" y1="1388.25" x2="217.14" y2="1388.25" stroke="#0a0a0a" stroke-width="1.3" />
<line x1="211.14" y1="1404.50" x2="217.14" y2="1404.50" stroke="#0a0a0a" stroke-width="1.3" />
<line x1="240.04" y1="1343.25" x2="240.04" y2="1366.75" stroke="#0a0a0a" stroke-width="1.45" />
<line x1="237.04" y1="1343.25" x2="243.04" y2="1343.25" stroke="#0a0a0a" stroke-width="1.3" />
<line x1="237.04" y1="1366.75" x2="243.04" y2="1366.75" stroke="#0a0a0a" stroke-width="1.3" />
<rect x="271.76" y="1413.75" width="25.90" height="12.20" fill="#fff" stroke="#1c1c1c" stroke-width="1.25"/>
<rect x="297.66" y="1404.25" width="25.90" height="21.70" fill="#58595b" stroke="#1c1c1c" stroke-width="1.25"/>
<rect x="323.56" y="1384.00" width="25.90" height="41.95" fill="#fff" stroke="none"/>
<g clip-path="url(#c13)" stroke="#000" stroke-width="2.8"><line x1="320.56" y1="1365.68" x2="352.46" y2="1333.78"/><line x1="320.56" y1="1384.90" x2="352.46" y2="1353.00"/><line x1="320.56" y1="1404.13" x2="352.46" y2="1372.23"/><line x1="320.56" y1="1423.35" x2="352.46" y2="1391.45"/><line x1="320.56" y1="1442.58" x2="352.46" y2="1410.68"/><line x1="320.56" y1="1461.80" x2="352.46" y2="1429.90"/></g>
<rect x="323.56" y="1384.00" width="25.90" height="41.95" fill="none" stroke="#1c1c1c" stroke-width="1.25"/>
<line x1="284.71" y1="1411.50" x2="284.71" y2="1416.00" stroke="#0a0a0a" stroke-width="1.45" />
<line x1="281.71" y1="1411.50" x2="287.71" y2="1411.50" stroke="#0a0a0a" stroke-width="1.3" />
<line x1="281.71" y1="1416.00" x2="287.71" y2="1416.00" stroke="#0a0a0a" stroke-width="1.3" />
<line x1="310.61" y1="1399.50" x2="310.61" y2="1407.50" stroke="#0a0a0a" stroke-width="1.45" />
<line x1="307.61" y1="1399.50" x2="313.61" y2="1399.50" stroke="#0a0a0a" stroke-width="1.3" />
<line x1="307.61" y1="1407.50" x2="313.61" y2="1407.50" stroke="#0a0a0a" stroke-width="1.3" />
<line x1="336.51" y1="1371.75" x2="336.51" y2="1394.50" stroke="#0a0a0a" stroke-width="1.45" />
<line x1="333.51" y1="1371.75" x2="339.51" y2="1371.75" stroke="#0a0a0a" stroke-width="1.3" />
<line x1="333.51" y1="1394.50" x2="339.51" y2="1394.50" stroke="#0a0a0a" stroke-width="1.3" />
<rect x="368.22" y="1099.25" width="25.90" height="326.70" fill="#fff" stroke="#1c1c1c" stroke-width="1.25"/>
<rect x="394.12" y="1138.75" width="25.90" height="287.20" fill="#58595b" stroke="#1c1c1c" stroke-width="1.25"/>
<rect x="420.02" y="1278.25" width="25.90" height="147.70" fill="#fff" stroke="none"/>
<g clip-path="url(#c14)" stroke="#000" stroke-width="2.8"><line x1="417.02" y1="1269.22" x2="448.92" y2="1237.32"/><line x1="417.02" y1="1288.44" x2="448.92" y2="1256.54"/><line x1="417.02" y1="1307.67" x2="448.92" y2="1275.77"/><line x1="417.02" y1="1326.89" x2="448.92" y2="1294.99"/><line x1="417.02" y1="1346.12" x2="448.92" y2="1314.22"/><line x1="417.02" y1="1365.34" x2="448.92" y2="1333.44"/><line x1="417.02" y1="1384.57" x2="448.92" y2="1352.67"/><line x1="417.02" y1="1403.79" x2="448.92" y2="1371.89"/><line x1="417.02" y1="1423.02" x2="448.92" y2="1391.12"/><line x1="417.02" y1="1442.24" x2="448.92" y2="1410.34"/><line x1="417.02" y1="1461.47" x2="448.92" y2="1429.57"/></g>
<rect x="420.02" y="1278.25" width="25.90" height="147.70" fill="none" stroke="#1c1c1c" stroke-width="1.25"/>
<line x1="381.17" y1="1093.25" x2="381.17" y2="1104.25" stroke="#0a0a0a" stroke-width="1.45" />
<line x1="378.17" y1="1093.25" x2="384.17" y2="1093.25" stroke="#0a0a0a" stroke-width="1.3" />
<line x1="378.17" y1="1104.25" x2="384.17" y2="1104.25" stroke="#0a0a0a" stroke-width="1.3" />
<line x1="407.07" y1="1126.25" x2="407.07" y2="1152.50" stroke="#0a0a0a" stroke-width="1.45" />
<line x1="404.07" y1="1126.25" x2="410.07" y2="1126.25" stroke="#0a0a0a" stroke-width="1.3" />
<line x1="404.07" y1="1152.50" x2="410.07" y2="1152.50" stroke="#0a0a0a" stroke-width="1.3" />
<line x1="432.97" y1="1258.50" x2="432.97" y2="1297.00" stroke="#0a0a0a" stroke-width="1.45" />
<line x1="429.97" y1="1258.50" x2="435.97" y2="1258.50" stroke="#0a0a0a" stroke-width="1.3" />
<line x1="429.97" y1="1297.00" x2="435.97" y2="1297.00" stroke="#0a0a0a" stroke-width="1.3" />
<rect x="69.45" y="1041.60" width="385.85" height="384.35" fill="none" stroke="#1c1c1c" stroke-width="1.2"/>
<text x="58.45" y="1430.45" font-family='"Liberation Sans", sans-serif' font-size="12.37" font-weight="normal" text-anchor="end" fill="#000" >0</text>
<line x1="69.45" y1="1349.08" x2="76.95" y2="1349.08" stroke="#1c1c1c" stroke-width="1.25" />
<line x1="447.80" y1="1349.08" x2="455.30" y2="1349.08" stroke="#1c1c1c" stroke-width="1.25" />
<text x="58.45" y="1353.58" font-family='"Liberation Sans", sans-serif' font-size="12.37" font-weight="normal" text-anchor="end" fill="#000" >20</text>
<line x1="69.45" y1="1272.21" x2="76.95" y2="1272.21" stroke="#1c1c1c" stroke-width="1.25" />
<line x1="447.80" y1="1272.21" x2="455.30" y2="1272.21" stroke="#1c1c1c" stroke-width="1.25" />
<text x="58.45" y="1276.71" font-family='"Liberation Sans", sans-serif' font-size="12.37" font-weight="normal" text-anchor="end" fill="#000" >40</text>
<line x1="69.45" y1="1195.34" x2="76.95" y2="1195.34" stroke="#1c1c1c" stroke-width="1.25" />
<line x1="447.80" y1="1195.34" x2="455.30" y2="1195.34" stroke="#1c1c1c" stroke-width="1.25" />
<text x="58.45" y="1199.84" font-family='"Liberation Sans", sans-serif' font-size="12.37" font-weight="normal" text-anchor="end" fill="#000" >60</text>
<line x1="69.45" y1="1118.47" x2="76.95" y2="1118.47" stroke="#1c1c1c" stroke-width="1.25" />
<line x1="447.80" y1="1118.47" x2="455.30" y2="1118.47" stroke="#1c1c1c" stroke-width="1.25" />
<text x="58.45" y="1122.97" font-family='"Liberation Sans", sans-serif' font-size="12.37" font-weight="normal" text-anchor="end" fill="#000" >80</text>
<text x="58.45" y="1046.10" font-family='"Liberation Sans", sans-serif' font-size="12.37" font-weight="normal" text-anchor="end" fill="#000" >100</text>
<line x1="165.91" y1="1041.60" x2="165.91" y2="1049.10" stroke="#1c1c1c" stroke-width="1.25" />
<line x1="165.91" y1="1417.95" x2="165.91" y2="1425.95" stroke="#1c1c1c" stroke-width="1.25" />
<line x1="262.38" y1="1041.60" x2="262.38" y2="1049.10" stroke="#1c1c1c" stroke-width="1.25" />
<line x1="262.38" y1="1417.95" x2="262.38" y2="1425.95" stroke="#1c1c1c" stroke-width="1.25" />
<line x1="358.84" y1="1041.60" x2="358.84" y2="1049.10" stroke="#1c1c1c" stroke-width="1.25" />
<line x1="358.84" y1="1417.95" x2="358.84" y2="1425.95" stroke="#1c1c1c" stroke-width="1.25" />
<text x="121.95" y="1441.95" font-family='"Liberation Sans", sans-serif' font-size="12.37" font-weight="normal" text-anchor="middle" fill="#000" >C</text>
<text x="218.70" y="1441.95" font-family='"Liberation Sans", sans-serif' font-size="12.37" font-weight="normal" text-anchor="middle" fill="#000" >N</text>
<text x="311.20" y="1441.95" font-family='"Liberation Sans", sans-serif' font-size="12.37" font-weight="normal" text-anchor="middle" fill="#000" >O</text>
<text x="410.70" y="1441.95" font-family='"Liberation Sans", sans-serif' font-size="12.37" font-weight="normal" text-anchor="middle" fill="#000" >Ag</text>
<text x="165.20" y="1022.50" font-family='"Liberation Sans", sans-serif' font-size="15.12" font-weight="bold" text-anchor="start" fill="#000" word-spacing="-0.8">200mW, 0.02m/s, scans: 10</text>
<text x="240.30" y="1462.50" font-family='"Liberation Sans", sans-serif' font-size="14.95" font-weight="normal" text-anchor="start" fill="#000" word-spacing="-0.48">Element</text>
<text transform="translate(27.00,1235.00) rotate(-90)" font-family='"Liberation Sans", sans-serif' font-size="14.95" text-anchor="middle" fill="#000">Weight percentage (%)</text>
<rect x="79.70" y="1056.75" width="162.80" height="57.50" fill="#fff" stroke="#1c1c1c" stroke-width="1.45"/>
<rect x="102.70" y="1064.85" width="10.80" height="10.75" fill="#fff" stroke="#0c0c0c" stroke-width="1.35"/>
<text x="129.20" y="1075.50" font-family='"Liberation Sans", sans-serif' font-size="13.06" font-weight="normal" text-anchor="start" fill="#000" >EG to ink ratio: 1:9</text>
<rect x="102.70" y="1080.50" width="10.80" height="10.30" fill="#58595b" stroke="#0c0c0c" stroke-width="1.35"/>
<text x="129.20" y="1090.50" font-family='"Liberation Sans", sans-serif' font-size="13.06" font-weight="normal" text-anchor="start" fill="#6e6e6e" >EG to ink ratio: 1:1</text>
<rect x="102.70" y="1095.30" width="10.80" height="10.30" fill="#fff" stroke="none"/>
<g clip-path="url(#c15)" stroke="#000" stroke-width="2.8"><line x1="99.70" y1="1086.69" x2="116.50" y2="1069.89"/><line x1="99.70" y1="1105.91" x2="116.50" y2="1089.11"/><line x1="99.70" y1="1125.14" x2="116.50" y2="1108.34"/></g>
<rect x="102.70" y="1095.30" width="10.80" height="10.30" fill="none" stroke="#0c0c0c" stroke-width="1.35"/>
<text x="129.20" y="1105.50" font-family='"Liberation Sans", sans-serif' font-size="13.06" font-weight="normal" text-anchor="start" fill="#000" >EG to ink ratio: 9:1</text>
<rect x="628.60" y="1418.00" width="26.00" height="11.50" fill="#fff" stroke="#1c1c1c" stroke-width="1.25"/>
<rect x="654.60" y="1413.75" width="26.00" height="15.75" fill="#58595b" stroke="#1c1c1c" stroke-width="1.25"/>
<rect x="680.60" y="1284.50" width="26.00" height="145.00" fill="#fff" stroke="none"/>
<g clip-path="url(#c16)" stroke="#000" stroke-width="2.8"><line x1="677.60" y1="1277.79" x2="709.60" y2="1245.79"/><line x1="677.60" y1="1297.01" x2="709.60" y2="1265.01"/><line x1="677.60" y1="1316.24" x2="709.60" y2="1284.24"/><line x1="677.60" y1="1335.46" x2="709.60" y2="1303.46"/><line x1="677.60" y1="1354.69" x2="709.60" y2="1322.69"/><line x1="677.60" y1="1373.91" x2="709.60" y2="1341.91"/><line x1="677.60" y1="1393.14" x2="709.60" y2="1361.14"/><line x1="677.60" y1="1412.36" x2="709.60" y2="1380.36"/><line x1="677.60" y1="1431.59" x2="709.60" y2="1399.59"/><line x1="677.60" y1="1450.81" x2="709.60" y2="1418.81"/><line x1="677.60" y1="1470.04" x2="709.60" y2="1438.04"/></g>
<rect x="680.60" y="1284.50" width="26.00" height="145.00" fill="none" stroke="#1c1c1c" stroke-width="1.25"/>
<line x1="641.60" y1="1417.00" x2="641.60" y2="1419.50" stroke="#0a0a0a" stroke-width="1.45" />
<line x1="638.60" y1="1417.00" x2="644.60" y2="1417.00" stroke="#0a0a0a" stroke-width="1.3" />
<line x1="638.60" y1="1419.50" x2="644.60" y2="1419.50" stroke="#0a0a0a" stroke-width="1.3" />
<line x1="667.60" y1="1409.00" x2="667.60" y2="1417.50" stroke="#0a0a0a" stroke-width="1.45" />
<line x1="664.60" y1="1409.00" x2="670.60" y2="1409.00" stroke="#0a0a0a" stroke-width="1.3" />
<line x1="664.60" y1="1417.50" x2="670.60" y2="1417.50" stroke="#0a0a0a" stroke-width="1.3" />
<line x1="693.60" y1="1255.75" x2="693.60" y2="1312.50" stroke="#0a0a0a" stroke-width="1.45" />
<line x1="690.60" y1="1255.75" x2="696.60" y2="1255.75" stroke="#0a0a0a" stroke-width="1.3" />
<line x1="690.60" y1="1312.50" x2="696.60" y2="1312.50" stroke="#0a0a0a" stroke-width="1.3" />
<rect x="725.27" y="1408.00" width="26.00" height="21.50" fill="#fff" stroke="#1c1c1c" stroke-width="1.25"/>
<rect x="751.27" y="1413.75" width="26.00" height="15.75" fill="#58595b" stroke="#1c1c1c" stroke-width="1.25"/>
<rect x="777.27" y="1378.25" width="26.00" height="51.25" fill="#fff" stroke="none"/>
<g clip-path="url(#c17)" stroke="#000" stroke-width="2.8"><line x1="774.27" y1="1373.37" x2="806.27" y2="1341.37"/><line x1="774.27" y1="1392.59" x2="806.27" y2="1360.59"/><line x1="774.27" y1="1411.82" x2="806.27" y2="1379.82"/><line x1="774.27" y1="1431.04" x2="806.27" y2="1399.04"/><line x1="774.27" y1="1450.27" x2="806.27" y2="1418.27"/><line x1="774.27" y1="1469.49" x2="806.27" y2="1437.49"/></g>
<rect x="777.27" y="1378.25" width="26.00" height="51.25" fill="none" stroke="#1c1c1c" stroke-width="1.25"/>
<line x1="738.27" y1="1398.50" x2="738.27" y2="1417.00" stroke="#0a0a0a" stroke-width="1.45" />
<line x1="735.27" y1="1398.50" x2="741.27" y2="1398.50" stroke="#0a0a0a" stroke-width="1.3" />
<line x1="735.27" y1="1417.00" x2="741.27" y2="1417.00" stroke="#0a0a0a" stroke-width="1.3" />
<line x1="764.27" y1="1403.75" x2="764.27" y2="1424.25" stroke="#0a0a0a" stroke-width="1.45" />
<line x1="761.27" y1="1403.75" x2="767.27" y2="1403.75" stroke="#0a0a0a" stroke-width="1.3" />
<line x1="761.27" y1="1424.25" x2="767.27" y2="1424.25" stroke="#0a0a0a" stroke-width="1.3" />
<line x1="790.27" y1="1366.75" x2="790.27" y2="1390.00" stroke="#0a0a0a" stroke-width="1.45" />
<line x1="787.27" y1="1366.75" x2="793.27" y2="1366.75" stroke="#0a0a0a" stroke-width="1.3" />
<line x1="787.27" y1="1390.00" x2="793.27" y2="1390.00" stroke="#0a0a0a" stroke-width="1.3" />
<rect x="821.94" y="1419.25" width="26.00" height="10.25" fill="#fff" stroke="#1c1c1c" stroke-width="1.25"/>
<rect x="847.94" y="1421.50" width="26.00" height="8.00" fill="#58595b" stroke="#1c1c1c" stroke-width="1.25"/>
<rect x="873.94" y="1410.25" width="26.00" height="19.25" fill="#fff" stroke="none"/>
<g clip-path="url(#c18)" stroke="#000" stroke-width="2.8"><line x1="870.94" y1="1392.04" x2="902.94" y2="1360.04"/><line x1="870.94" y1="1411.27" x2="902.94" y2="1379.27"/><line x1="870.94" y1="1430.49" x2="902.94" y2="1398.49"/><line x1="870.94" y1="1449.72" x2="902.94" y2="1417.72"/><line x1="870.94" y1="1468.94" x2="902.94" y2="1436.94"/></g>
<rect x="873.94" y="1410.25" width="26.00" height="19.25" fill="none" stroke="#1c1c1c" stroke-width="1.25"/>
<line x1="834.94" y1="1416.50" x2="834.94" y2="1422.50" stroke="#0a0a0a" stroke-width="1.45" />
<line x1="831.94" y1="1416.50" x2="837.94" y2="1416.50" stroke="#0a0a0a" stroke-width="1.3" />
<line x1="831.94" y1="1422.50" x2="837.94" y2="1422.50" stroke="#0a0a0a" stroke-width="1.3" />
<line x1="886.94" y1="1399.50" x2="886.94" y2="1421.25" stroke="#0a0a0a" stroke-width="1.45" />
<line x1="883.94" y1="1399.50" x2="889.94" y2="1399.50" stroke="#0a0a0a" stroke-width="1.3" />
<line x1="883.94" y1="1421.25" x2="889.94" y2="1421.25" stroke="#0a0a0a" stroke-width="1.3" />
<rect x="918.61" y="1085.75" width="26.00" height="343.75" fill="#fff" stroke="#1c1c1c" stroke-width="1.25"/>
<rect x="944.61" y="1083.00" width="26.00" height="346.50" fill="#58595b" stroke="#1c1c1c" stroke-width="1.25"/>
<rect x="970.61" y="1258.75" width="26.00" height="170.75" fill="#fff" stroke="none"/>
<g clip-path="url(#c19)" stroke="#000" stroke-width="2.8"><line x1="967.61" y1="1237.70" x2="999.61" y2="1205.70"/><line x1="967.61" y1="1256.92" x2="999.61" y2="1224.92"/><line x1="967.61" y1="1276.15" x2="999.61" y2="1244.15"/><line x1="967.61" y1="1295.37" x2="999.61" y2="1263.37"/><line x1="967.61" y1="1314.60" x2="999.61" y2="1282.60"/><line x1="967.61" y1="1333.82" x2="999.61" y2="1301.82"/><line x1="967.61" y1="1353.05" x2="999.61" y2="1321.05"/><line x1="967.61" y1="1372.27" x2="999.61" y2="1340.27"/><line x1="967.61" y1="1391.50" x2="999.61" y2="1359.50"/><line x1="967.61" y1="1410.72" x2="999.61" y2="1378.72"/><line x1="967.61" y1="1429.95" x2="999.61" y2="1397.95"/><line x1="967.61" y1="1449.17" x2="999.61" y2="1417.17"/><line x1="967.61" y1="1468.40" x2="999.61" y2="1436.40"/></g>
<rect x="970.61" y="1258.75" width="26.00" height="170.75" fill="none" stroke="#1c1c1c" stroke-width="1.25"/>
<line x1="931.61" y1="1077.50" x2="931.61" y2="1095.00" stroke="#0a0a0a" stroke-width="1.45" />
<line x1="928.61" y1="1077.50" x2="934.61" y2="1077.50" stroke="#0a0a0a" stroke-width="1.3" />
<line x1="928.61" y1="1095.00" x2="934.61" y2="1095.00" stroke="#0a0a0a" stroke-width="1.3" />
<line x1="957.61" y1="1070.00" x2="957.61" y2="1097.00" stroke="#0a0a0a" stroke-width="1.45" />
<line x1="954.61" y1="1070.00" x2="960.61" y2="1070.00" stroke="#0a0a0a" stroke-width="1.3" />
<line x1="954.61" y1="1097.00" x2="960.61" y2="1097.00" stroke="#0a0a0a" stroke-width="1.3" />
<line x1="983.61" y1="1213.00" x2="983.61" y2="1303.25" stroke="#0a0a0a" stroke-width="1.45" />
<line x1="980.61" y1="1213.00" x2="986.61" y2="1213.00" stroke="#0a0a0a" stroke-width="1.3" />
<line x1="980.61" y1="1303.25" x2="986.61" y2="1303.25" stroke="#0a0a0a" stroke-width="1.3" />
<rect x="619.26" y="1041.90" width="386.69" height="387.60" fill="none" stroke="#1c1c1c" stroke-width="1.2"/>
<text x="608.26" y="1434.00" font-family='"Liberation Sans", sans-serif' font-size="12.39" font-weight="normal" text-anchor="end" fill="#000" >0</text>
<line x1="619.26" y1="1351.98" x2="626.76" y2="1351.98" stroke="#1c1c1c" stroke-width="1.25" />
<line x1="998.45" y1="1351.98" x2="1005.95" y2="1351.98" stroke="#1c1c1c" stroke-width="1.25" />
<text x="608.26" y="1356.48" font-family='"Liberation Sans", sans-serif' font-size="12.39" font-weight="normal" text-anchor="end" fill="#000" >20</text>
<line x1="619.26" y1="1274.46" x2="626.76" y2="1274.46" stroke="#1c1c1c" stroke-width="1.25" />
<line x1="998.45" y1="1274.46" x2="1005.95" y2="1274.46" stroke="#1c1c1c" stroke-width="1.25" />
<text x="608.26" y="1278.96" font-family='"Liberation Sans", sans-serif' font-size="12.39" font-weight="normal" text-anchor="end" fill="#000" >40</text>
<line x1="619.26" y1="1196.94" x2="626.76" y2="1196.94" stroke="#1c1c1c" stroke-width="1.25" />
<line x1="998.45" y1="1196.94" x2="1005.95" y2="1196.94" stroke="#1c1c1c" stroke-width="1.25" />
<text x="608.26" y="1201.44" font-family='"Liberation Sans", sans-serif' font-size="12.39" font-weight="normal" text-anchor="end" fill="#000" >60</text>
<line x1="619.26" y1="1119.42" x2="626.76" y2="1119.42" stroke="#1c1c1c" stroke-width="1.25" />
<line x1="998.45" y1="1119.42" x2="1005.95" y2="1119.42" stroke="#1c1c1c" stroke-width="1.25" />
<text x="608.26" y="1123.92" font-family='"Liberation Sans", sans-serif' font-size="12.39" font-weight="normal" text-anchor="end" fill="#000" >80</text>
<text x="608.26" y="1046.40" font-family='"Liberation Sans", sans-serif' font-size="12.39" font-weight="normal" text-anchor="end" fill="#000" >100</text>
<line x1="715.93" y1="1041.90" x2="715.93" y2="1049.40" stroke="#1c1c1c" stroke-width="1.25" />
<line x1="715.93" y1="1421.50" x2="715.93" y2="1429.50" stroke="#1c1c1c" stroke-width="1.25" />
<line x1="812.61" y1="1041.90" x2="812.61" y2="1049.40" stroke="#1c1c1c" stroke-width="1.25" />
<line x1="812.61" y1="1421.50" x2="812.61" y2="1429.50" stroke="#1c1c1c" stroke-width="1.25" />
<line x1="909.28" y1="1041.90" x2="909.28" y2="1049.40" stroke="#1c1c1c" stroke-width="1.25" />
<line x1="909.28" y1="1421.50" x2="909.28" y2="1429.50" stroke="#1c1c1c" stroke-width="1.25" />
<text x="671.70" y="1445.25" font-family='"Liberation Sans", sans-serif' font-size="12.39" font-weight="normal" text-anchor="middle" fill="#000" >C</text>
<text x="769.20" y="1445.25" font-family='"Liberation Sans", sans-serif' font-size="12.39" font-weight="normal" text-anchor="middle" fill="#000" >N</text>
<text x="861.20" y="1445.25" font-family='"Liberation Sans", sans-serif' font-size="12.39" font-weight="normal" text-anchor="middle" fill="#000" >O</text>
<text x="961.20" y="1445.25" font-family='"Liberation Sans", sans-serif' font-size="12.39" font-weight="normal" text-anchor="middle" fill="#000" >Ag</text>
<text x="715.40" y="1022.50" font-family='"Liberation Sans", sans-serif' font-size="15.15" font-weight="bold" text-anchor="start" fill="#000" word-spacing="-0.8">200mW, 0.02m/s, scans: 10</text>
<text x="787.20" y="1463.00" font-family='"Liberation Sans", sans-serif' font-size="14.97" font-weight="normal" text-anchor="start" fill="#000" word-spacing="-0.48">Element</text>
<text transform="translate(576.40,1237.40) rotate(-90)" font-family='"Liberation Sans", sans-serif' font-size="14.97" text-anchor="middle" fill="#000">Weight percentage (%)</text>
<rect x="629.70" y="1057.00" width="162.55" height="58.00" fill="#fff" stroke="#1c1c1c" stroke-width="1.45"/>
<rect x="652.30" y="1065.25" width="11.10" height="10.95" fill="#fff" stroke="#0c0c0c" stroke-width="1.35"/>
<text x="679.20" y="1076.25" font-family='"Liberation Sans", sans-serif' font-size="13.08" font-weight="normal" text-anchor="start" fill="#000" >PG to ink ratio: 1:9</text>
<rect x="652.30" y="1080.90" width="11.10" height="10.50" fill="#58595b" stroke="#0c0c0c" stroke-width="1.35"/>
<text x="679.20" y="1091.25" font-family='"Liberation Sans", sans-serif' font-size="13.08" font-weight="normal" text-anchor="start" fill="#6e6e6e" >PG to ink ratio: 1:1</text>
<rect x="652.30" y="1095.70" width="11.10" height="10.70" fill="#fff" stroke="none"/>
<g clip-path="url(#c20)" stroke="#000" stroke-width="2.8"><line x1="649.30" y1="1075.39" x2="666.40" y2="1058.29"/><line x1="649.30" y1="1094.61" x2="666.40" y2="1077.51"/><line x1="649.30" y1="1113.84" x2="666.40" y2="1096.74"/><line x1="649.30" y1="1133.06" x2="666.40" y2="1115.96"/></g>
<rect x="652.30" y="1095.70" width="11.10" height="10.70" fill="none" stroke="#0c0c0c" stroke-width="1.35"/>
<text x="679.20" y="1106.25" font-family='"Liberation Sans", sans-serif' font-size="13.08" font-weight="normal" text-anchor="start" fill="#000" >PG to ink ratio: 9:1</text>
<text transform="translate(535.85,492.3) scale(1.07,1.17)" x="0" y="0" font-family='"Liberation Serif", serif' font-size="23" text-anchor="middle" fill="#000">(<tspan font-weight="bold">a</tspan>)</text>
<text transform="translate(535.85,997.1) scale(1.12,1.17)" x="0" y="0" font-family='"Liberation Serif", serif' font-size="23" text-anchor="middle" fill="#000">(<tspan font-weight="bold">b</tspan>)</text>
<text transform="translate(535.85,1498.6) scale(1.07,1.17)" x="0" y="0" font-family='"Liberation Serif", serif' font-size="23" text-anchor="middle" fill="#000">(<tspan font-weight="bold">c</tspan>)</text>
</g>
</svg>
</body></html>
